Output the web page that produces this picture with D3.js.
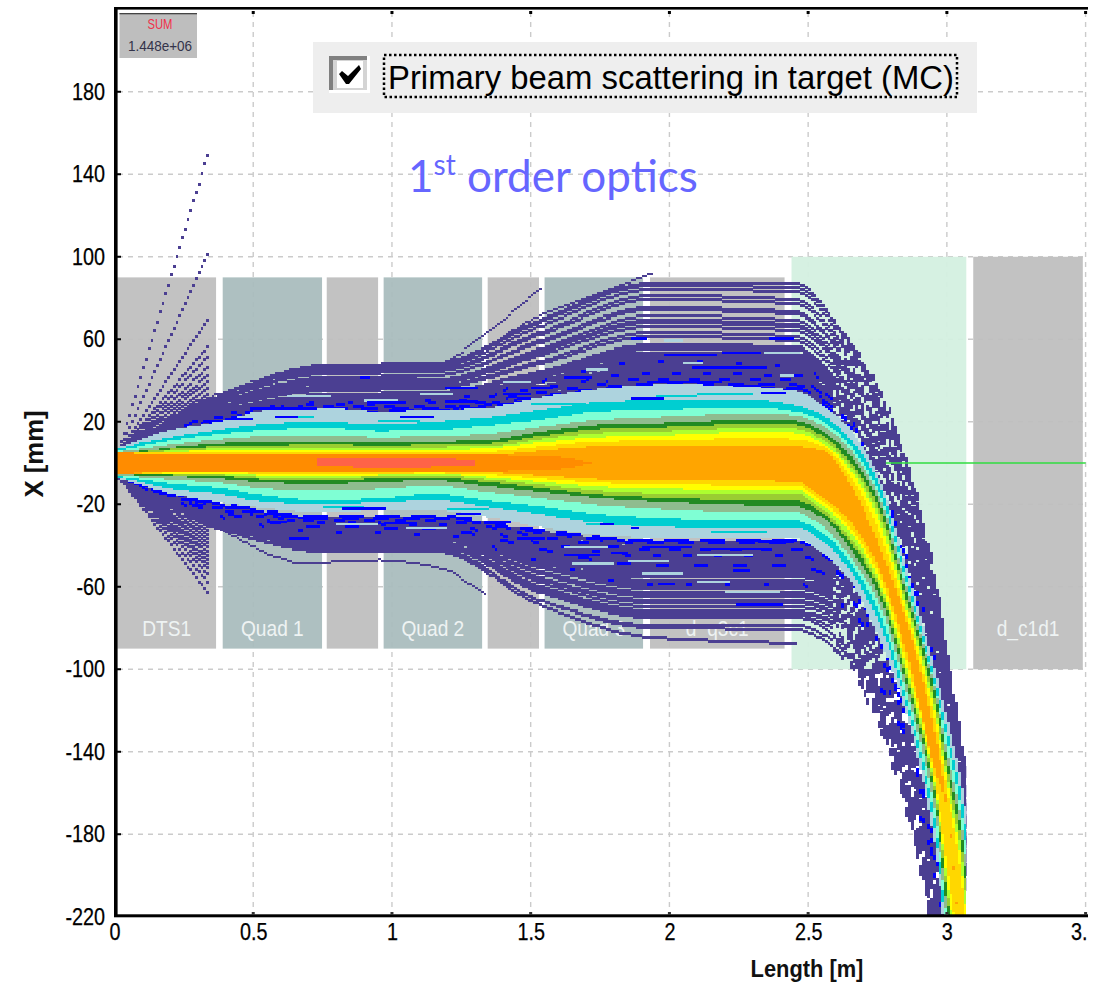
<!DOCTYPE html>
<html><head><meta charset="utf-8">
<script src="https://cdn.jsdelivr.net/npm/d3@7"></script>
<style>html,body{margin:0;padding:0;background:#fff}svg{display:block}text{font-family:"Liberation Sans",Arial,sans-serif}</style>
</head><body><div id="c"></div>
<script>
// ---------- axis ticks
const xTicks=[0,0.5,1,1.5,2,2.5,3,3.5];
const xTickLabels=["0","0.5","1","1.5","2","2.5","3","3."];
const yTicks=[180,140,100,60,20,-20,-60,-100,-140,-180,-220];
// ---------- beamline elements: name, start, end, half aperture, kind
const elemNames=["DTS1","Quad 1","","Quad 2","","Quad 3","d_q3c1","","d_c1d1"];
const elemStart=[0.01,0.39,0.765,0.97,1.345,1.55,1.93,2.44,3.095];
const elemEnd=[0.366,0.748,0.95,1.325,1.53,1.905,2.415,3.07,3.49];
const elemHalf=[90,90,90,90,90,90,90,100,100];
const elemKind=["d","q","d","q","d","q","d","g","d"];
// ---------- stations (m) for the colour bands
const bandX=[0.01,0.1,0.2,0.37,0.55,0.75,0.95,1.15,1.33,1.53,1.75,2.0,2.3,2.45,2.55,2.65,2.75,2.85,2.95,3.0,3.04,3.08];
const lbU=[7.5,12,16,20,25.7,26.7,25,25.7,26.7,32,36,38,37,35,28,16,-7,-51,-99,-126,-150,-185];
const cyU=[7,10,12.5,16,19,20,18.5,20,22,25.7,29.6,30.5,30.5,28,23,11,-10,-55,-104,-132,-157,-195];
const aqU=[6,8.5,11,14,16,17,15.5,16,18,21,25,26,27,25,20,8,-14,-58,-107,-137,-163,-205];
const dsU=[5.5,7,9,11.5,13,13.5,12.5,13,14,17.5,21,22.5,24,23,18,6,-16,-60,-108,-143,-168,-214];
const fgU=[5,6,7.5,9.5,10.5,10.5,10,10.5,11,15,18.5,19.5,21,20.5,15,3,-19,-63,-110,-147,-173,-222];
const ygU=[5,5.7,6.8,8,8.5,9,8.5,9,9.5,13,16.5,17.5,19,18.5,13,0,-22,-66,-114,-151,-178,-228];
const gyU=[5,5.4,6,7,7.5,7.7,7.5,7.7,8,11.5,14.5,15.5,17,16.5,11,-2,-25,-68,-117,-155,-183,-235];
const yeU=[5,5.2,5.5,6.3,6.5,6.5,6.3,6.5,7,10,12.5,13.5,15,14.5,9.5,-4,-28,-71,-120,-158,-188,-245];
const goU=[5,5,5,5,5.2,5.2,5.2,5.2,5.5,8,10.5,11,12,11.5,8,-7,-33,-74,-124,-162,-194,-252];
const orU=[5,4.7,4.4,4,4,4,4,4,4,6,8,8,8.2,8,6,-11,-40,-77,-130,-170,-230,-300];
const orL=[-5.5,-4.8,-4.5,-4.2,-4.2,-4.2,-4.2,-4.2,-4.5,-6,-7.8,-8.3,-8.6,-9,-17,-29,-51,-92,-148,-170,-230,-300];
const goL=[-5.5,-5,-4.8,-4.7,-5,-5.2,-5,-4.8,-5.5,-7.5,-9.5,-10.5,-10.8,-11,-19,-32,-54,-96,-152,-200,-235,-270];
const yeL=[-5.5,-5.1,-5,-5.1,-6,-6.3,-5.8,-5.2,-6.7,-9,-11.5,-12.5,-13,-13,-21,-34,-57,-99,-155,-207,-245,-280];
const gyL=[-5.5,-5.3,-5.4,-5.7,-7,-7.3,-6.5,-6,-7.8,-10.5,-13.5,-15,-15.5,-15,-23,-37,-59,-102,-157,-211,-250,-290];
const ygL=[-5.5,-5.5,-5.8,-6.3,-8,-8.5,-7.5,-7,-9,-12,-15.5,-17,-18,-18,-25,-39,-61,-104,-159,-215,-255,-295];
const fgL=[-5.5,-6,-6.5,-7.5,-9.5,-10,-9,-8.5,-11,-14,-17,-19,-20.5,-21,-27,-42,-64,-107,-162,-222,-262,-305];
const dsL=[-6,-7,-8,-9.5,-12.5,-13.5,-12.5,-11,-14,-17,-20.5,-22.5,-24,-24,-31,-46,-68,-111,-167,-228,-270,-312];
const aqL=[-6.5,-8,-10,-12,-16,-18,-17,-15,-18,-21,-25,-27,-28,-28,-34,-49,-72,-115,-172,-234,-280,-320];
const cyL=[-7,-9.5,-12.5,-15,-19,-20,-19,-18,-21,-25,-29,-31,-31.5,-31.5,-38,-53,-77,-118,-177,-240,-290,-330];
const lbL=[-7.5,-11,-15,-19,-22,-24,-23,-23,-26,-31,-35,-36.5,-36.5,-36.5,-44,-58,-85,-122,-184,-246,-300,-340];
const bandColors=["#add3de","#00ced1","#7fffd4","#8fbc8f","#228b22","#9acd32","#adff2f","#ffff00","#ffd700","#ffa500"];
const bandUpper=[lbU,cyU,aqU,dsU,fgU,ygU,gyU,yeU,goU,orU];
const bandLower=[lbL,cyL,aqL,dsL,fgL,ygL,gyL,yeL,goL,orL];
// darker core of the beam
const coreX=[0.01,0.4,0.75,1.33,1.6,1.72];
const coreU=[5,4,4,4,3,0];
const coreL=[-5,-4,-4,-4,-3,0];
const hotX=[0.73,0.9,1.1,1.3];
const hotU=[2,2.4,2.4,1.5];
const hotL=[-1.5,-2,-2,-1];
// ---------- single-particle tracks at these stations (m)
const trackX=[0.37,0.75,1.15,1.53,1.93,2.45,2.6,2.75,2.9,3.07];
const sparseUp=[
[33,48,49,70,88,88,68,34,-24,-152],[33,47,48,69,87,86,67,35,-22,-150],[32,46,47,67,85,84,65,33,-25,-155],
[31,45,46,64,82,80,62,30,-28,-156],[31,44,45,63,80,78,60,28,-30,-158],[30,42,43,60,76,74,57,25,-32,-162],
[30,41,43,59,75,73,56,24,-35,-163],[29,41,41,56,72,70,53,21,-37,-167],[29,40,40,55,70,68,51,19,-39,-169],
[28,39,39,54,69,67,50,18,-40,-171],[28,38,39,53,67,65,49,16,-42,-172],[27,37,38,50,64,62,46,13,-45,-176],[27,36,37,49,62,60,44,11,-47,-178]];
const denseUp=[
[26,34,35,45,58,57,41,7,-51,-180],[26,34,35,45,57,56,40,6,-52,-181],[25,33,34,44,56,54,39,4,-55,-183],[25,33,33,43,54,52,37,2,-57,-185],
[24,32,32,41,52,50,35,0,-58,-188],[24,31,31,40,50,48,33,-2,-60,-190],[23,30,30,38,48,46,31,-4,-62,-192],
[23,29,30,37,46,44,30,-5,-64,-194],[22,28,29,36,44,42,28,-7,-66,-196],[22,28,28,34,42,40,26,-9,-68,-198],
[21,27,27,33,40,38,24,-11,-70,-196],[21,26,26,31,38,36,22,-13,-72,-198]];
const sparseLow=[
[-31,-42,-42,-68,-84,-87,null,null,null,null],[-31,-41,-40,-66,-79,-80,-90,-124,-191,-330],
[-31,-41,-41,-66,-78,-78,-87,-122,-189,-328],[-30,-40,-39,-62,-74,-74,-84,-119,-186,-324],[-30,-39,-38,-61,-73,-73,-81,-118,-185,-322]];
const denseLow=[
[-29,-38,-37,-59,-71,-71,-77,-115,-182,-318],[-28,-37,-36,-57,-69,-69,-75,-114,-180,-316],[-27,-36,-35,-55,-66,-66,-73,-111,-177,-313],
[-27,-35,-35,-53,-64,-64,-71,-109,-175,-310],[-26,-35,-34,-52,-62,-62,-69,-107,-172,-308],[-26,-34,-33,-50,-60,-60,-67,-105,-170,-306],
[-25,-33,-33,-49,-58,-58,-65,-103,-168,-304],[-25,-33,-32,-47,-56,-56,-63,-101,-166,-302],[-24,-32,-31,-45,-54,-54,-61,-99,-164,-299],
[-24,-31,-31,-44,-52,-52,-59,-97,-162,-297],[-23,-31,-30,-42,-50,-50,-57,-95,-160,-295],[-23,-30,-29,-41,-48,-48,-55,-94,-158,-293],
[-22,-29,-29,-39,-46,-46,-53,-92,-156,-291],[-22,-28,-28,-38,-44,-44,-51,-90,-154,-288],[-21,-28,-27,-36,-42,-42,-50,-88,-152,-286],
[-21,-27,-27,-35,-40,-40,-48,-86,-150,-284],[-20,-26,-26,-33,-38,-38,-46,-84,-148,-282]];
// cell height (mm) of the dense tracks, read from the stripes
const denseHeightUp=[1.6,2.2,1.7,2.2,2.2,1.8,2.2,2.2,2.2,2.2,2.2,2.2];
const denseHeightLow=[2.2,1.6,2.2,1.4,2.2,1.6,2.2,2.2,1.8,2.2,2.2,2.2,2.2,2.2,2.2,2.2,2.2];
const blueUp=[
[21,27,27,33,39,38.5,25,-13,-72,-198],[22,28,28,35,41,41,27,-11,-69,-196],[20,25,26,31,37,37,23,-14,-74,-203],
[23,29,30,37,44,43,29,-9,-67,-194],[19,24,25,30,36,36,22,-15,-76,-206],[24,30,31,40,50,48,33,-5,-62,-190]];
const blueLow=[
[-20,-26,-26,-33,-38,-38,-45,-84,-155,-280],[-21,-27,-27,-35,-41,-41,-48,-87,-157,-285],[-19,-25,-25,-32,-37,-37,-45,-83,-154,-282],
[-22,-28,-29,-38,-44,-44,-52,-90,-160,-288],[-23,-30,-31,-41,-49,-49,-57,-95,-164,-294],[-25,-33,-34,-47,-58,-58,-65,-103,-170,-304]];
const blueOn=[6,4,9,3,5,2];
const blueOff=[5,7,4,8,9,12];
// horizontal streaks: start m, end m, height mm
const streakBlueX0=[1.86,1.92,2.08,1.98,2.19,1.86,2.36,2.23,2.33,1.9,2.11,2.23,2.24,1.96,1.79,2.32,1.75,1.86,0.885,0.49,0.58,1.03,0.91,1.19,1.19,0.55,0.55,0.66,0.82,0.97,1.23,1.33,0.63,0.4,1.4,1.5,1.62,1.45,1.62];
const streakBlueX1=[1.98,2.19,2.35,2.17,2.33,1.92,2.45,2.33,2.42,2.08,2.35,2.29,2.41,2.02,1.85,2.45,1.8,1.89,0.92,0.73,0.66,1.15,1.04,1.31,1.31,0.63,0.62,0.75,0.98,1.09,1.32,1.43,0.70,0.5,1.5,1.58,1.72,1.55,1.75];
const streakBlueY=[32,40,47,53,54,61,61,38,34.5,-40,-41,-51.5,-68,-58,-43,-37.5,-29,-31,42,27,23,23,30,30.5,37,-24,-28,-26,-21.5,-28.5,-24,-28,-36,22,34,37,42,-36,-44];
const streakPaleX0=[2.34,1.98,2.05,1.7,2.4,0.62,0.9,1.1,1.4,1.62,1.85,2.1,2.2,0.8,1.05,1.65,1.9,2.1];
const streakPaleX1=[2.47,2.05,2.12,1.78,2.45,0.78,1.02,1.22,1.5,1.78,2.0,2.22,2.4,0.95,1.2,1.8,2.05,2.3];
const streakPaleY=[54,60,49,46,43,33,31,34,40,-40,-47,-57,-62,-29,-31,-48,-53,-44];
const streakCyanX0=[0.6,0.95,1.5,1.95,2.1,0.75,1.2,1.7,2.15];
const streakCyanX1=[0.72,1.1,1.7,2.1,2.3,0.9,1.35,1.9,2.35];
const streakCyanY=[23,21,29,33,34,-21,-22,-29,-33];
// tracks lost on an aperture
const lostX=[[0.37,0.75,1.15,1.33,1.53],[0.37,0.75,1.15,1.53,1.93],[0.2,0.37,0.58,0.67,0.95,1.18,1.33]];
const lostY=[[34,47,48,63,85],[33,47,47,72,92],[-18,-31,-45,-48,-46.5,-51,-63]];
// scattered fan inside DTS1, end value at 0.33 m
const fanUp=[150,102,70,57,52,47,43,40,37,34,31,28,25];
const fanLow=[-62,-57,-53,-50,-48,-46,-44,-42,-40,-38,-36,-34,-32,-30,-28];
const fanEndX=0.33;
const zeroLineX=[2.78,3.5];
const zeroLineY=[0,0];
// hand-set texture for the histogram's speckled part
const speckle=[1,1,0,1,1,1,0,1,1,1,1,0,0,1,1,1,0,1,1,0,1,1,1,1,1,0,1,1,0,1,1];
const wobble=[0,2,-1,3,-3,1,-2,4,-1,0,3,-4,2,-2,1,-3,0,2];

const W=1100,H=985;
const x=d3.scaleLinear().domain([0,3.5]).range([114.5,1085.6]);
const y=d3.scaleLinear().domain([-220,220]).range([916.75,9.25]);
const svg=d3.select("#c").append("svg").attr("width",W).attr("height",H).attr("viewBox",[0,0,W,H]);

function squeeze(sel,k){sel.each(function(){const l=this.getComputedTextLength();d3.select(this).attr("textLength",l*k).attr("lengthAdjust","spacingAndGlyphs");});}

// grid
const grid=svg.append("g").attr("stroke","#cbcbcb").attr("stroke-width",1.4).attr("stroke-dasharray","5,5");
grid.selectAll("line.v").data(xTicks.slice(1)).join("line").attr("x1",d=>x(d)).attr("x2",d=>x(d)).attr("y1",12).attr("y2",913);
grid.selectAll("line.h").data(yTicks.slice(0,-1)).join("line").attr("x1",118).attr("x2",1085).attr("y1",d=>y(d)).attr("y2",d=>y(d));

// elements
const kindColor={d:"#bebebe",q:"#a9bcbd",g:"#d3f0e0"};
const eg=svg.append("g");
eg.selectAll("rect").data(elemStart).join("rect")
 .attr("x",d=>x(d)).attr("width",(d,i)=>x(elemEnd[i])-x(d))
 .attr("y",(d,i)=>y(elemHalf[i])).attr("height",(d,i)=>y(-elemHalf[i])-y(elemHalf[i]))
 .attr("fill",(d,i)=>kindColor[elemKind[i]]).attr("opacity",0.94);
eg.selectAll("text").data(elemNames).join("text")
 .attr("x",(d,i)=>(x(elemStart[i])+x(elemEnd[i]))/2).attr("y",636).attr("text-anchor","middle")
 .attr("font-size",22).attr("fill","#eef3f3").text(d=>d).call(squeeze,0.87);

function interp(xs,ys){
 const n=xs.length,d=[],m=[];
 for(let i=0;i<n-1;i++)d.push((ys[i+1]-ys[i])/(xs[i+1]-xs[i]));
 m[0]=d[0];m[n-1]=d[n-2];
 for(let i=1;i<n-1;i++)m[i]=d[i-1]*d[i]<=0?0:2*d[i-1]*d[i]/(d[i-1]+d[i]);
 return t=>{
  let i=d3.bisectRight(xs,t)-1;i=Math.max(0,Math.min(n-2,i));
  const h=xs[i+1]-xs[i],s=(t-xs[i])/h,s2=s*s,s3=s2*s;
  return (2*s3-3*s2+1)*ys[i]+(s3-2*s2+s)*h*m[i]+(-2*s3+3*s2)*ys[i+1]+(s3-s2)*h*m[i+1];
 };
}
const stepM=0.01;
const cols=d3.range(0.01,3.08,stepM);
const plot=svg.append("g").attr("clip-path","url(#beam)");
svg.append("clipPath").attr("id","beam").append("rect").attr("x",x(0.01)).attr("y",y(220)).attr("width",x(3.07)-x(0.01)).attr("height",y(-220)-y(220));

function cellPath(xs,ys,h,on,off,phase,row,skipEarly,cap){
 const f=interp(xs,ys),end=xs[xs.length-1];let p="";
 cols.forEach((t,i)=>{
  if(t>end+1e-6||t<xs[0])return;
  if(on&&((i+phase)%(on+off))>=on)return;
  let v=f(t),hh=h;
  if(row!==undefined){
   const steep=t>2.58, early=skipEarly&&t<0.42;
   if((steep||early)&&!speckle[(i*3+row*7)%speckle.length])return;
   if(steep){
     v+=wobble[(i*5+row*3)%wobble.length]*Math.min(1,(t-2.58)/0.15);
     hh=Math.min(0.6*Math.abs(f(t+stepM)-f(t))+1.6,cap||99);
   }
  }
  const x0=Math.round(x(t)),x1=Math.round(x(t+stepM)),y0=Math.round(y(Math.round(v)));
  p+=`M${x0} ${y0}H${x1}V${y0+Math.round(hh*2.0625)}H${x0}z`;
 });
 return p;
}
const start=v=>v>0?6:-6;
function track(r){const n=r.findIndex(v=>v===null),k=n<0?r.length:n;return {xs:[0.01,...trackX.slice(0,k)],ys:[start(r[0]),...r.slice(0,k)]};}
const purple="#4b3f92",blue="#0000ff";
function put(d,c){plot.append("path").attr("fill",c).attr("shape-rendering","crispEdges").attr("d",d);}
[...fanUp,...fanLow].forEach(e=>put(cellPath([0.01,fanEndX],[start(e),e],1.4),purple));
lostX.forEach((xs,i)=>{const ys=lostY[i];put(cellPath([0.01,...xs],[start(ys[0]),...ys],1.2),purple);});
sparseUp.concat(sparseLow).forEach((r,i)=>{const t=track(r);put(cellPath(t.xs,t.ys,1.3,0,0,0,i,true),purple);});
denseUp.forEach((r,i)=>{const t=track(r);put(cellPath(t.xs,t.ys,denseHeightUp[i],0,0,0,i+20),purple);});
denseLow.forEach((r,i)=>{const t=track(r);put(cellPath(t.xs,t.ys,denseHeightLow[i],0,0,0,i+40),purple);});
blueUp.concat(blueLow).forEach((r,i)=>{const t=track(r),k=i%6;put(cellPath(t.xs,t.ys,1.3,blueOn[k],blueOff[k],i*3,i+60,false,2.2),blue);});

// colour bands as staircase columns
function band(xs,u,l,color){
 const fu=interp(xs,u),fl=interp(xs,l);
 const c=cols.filter(t=>t>=xs[0]&&t<=xs[xs.length-1]);
 const a=d3.area().x(t=>Math.round(x(t))).y0(t=>Math.round(y(fl(t))/2)*2).y1(t=>Math.round(y(fu(t))/2)*2).curve(d3.curveStepAfter);
 put(a(c),color);
}
bandColors.forEach((c,i)=>band(bandX,bandUpper[i],bandLower[i],c));
band(coreX,coreU,coreL,"#ff8c00");
band(hotX,hotU,hotL,"#ff6347");
// streaks
function streaks(x0s,x1s,ys,c,h){plot.append("g").attr("fill",c).attr("shape-rendering","crispEdges").selectAll("rect").data(ys).join("rect")
 .attr("x",(d,i)=>x(x0s[i])).attr("width",(d,i)=>x(x1s[i])-x(x0s[i])).attr("y",d=>y(d)).attr("height",h);}
streaks(streakPaleX0,streakPaleX1,streakPaleY,"#add3de",2.5);
streaks(streakCyanX0,streakCyanX1,streakCyanY,"#00ced1",2);
streaks(streakBlueX0,streakBlueX1,streakBlueY,blue,2.5);

// zero line
svg.append("path").attr("fill","none").attr("stroke","#2fdc3f").attr("stroke-width",1.3)
 .attr("d",d3.line().x(d=>x(d[0])).y(d=>y(d[1]))(zeroLineX.map((v,i)=>[v,zeroLineY[i]])));

// frame
svg.append("rect").attr("x",114).attr("y",7).attr("width",3.6).attr("height",910).attr("fill","#000");
svg.append("rect").attr("x",114).attr("y",7).attr("width",974).attr("height",2.6).attr("fill","#000");
svg.append("rect").attr("x",114).attr("y",914.3).attr("width",974).attr("height",3).attr("fill","#000");

// axes through d3
const ax=d3.axisBottom(x).tickValues(xTicks).tickFormat((d,i)=>xTickLabels[i]).tickSize(0).tickPadding(0);
const gx=svg.append("g").attr("transform","translate(0,917)").call(ax);
gx.select(".domain").remove();
gx.selectAll("text").attr("font-size",23).attr("fill","#000").attr("stroke","#000").attr("stroke-width",0.25).attr("y",7).attr("dy","0.71em").attr("font-family",'"Liberation Sans"').call(squeeze,0.86);
gx.selectAll(".tick").filter(d=>d===3.5).select("text").attr("text-anchor","start").attr("x",-15);
const ay=d3.axisLeft(y).tickValues(yTicks).tickFormat(d=>String(d)).tickSize(0).tickPadding(0);
const gy=svg.append("g").attr("transform","translate(105,0)").call(ay);
gy.select(".domain").remove();
gy.selectAll("text").attr("font-size",23).attr("fill","#000").attr("stroke","#000").attr("stroke-width",0.25).attr("x",0).attr("font-family",'"Liberation Sans"').call(squeeze,0.86);
svg.append("g").selectAll("rect").data(yTicks.slice(0,-1)).join("rect").attr("x",117).attr("width",4).attr("y",d=>y(d)-1).attr("height",2).attr("fill","#000");
svg.append("g").selectAll("rect").data(xTicks.slice(1)).join("rect").attr("x",d=>x(d)-1.5).attr("width",3).attr("y",11).attr("height",3).attr("fill","#000");
svg.append("g").selectAll("rect").data(xTicks.slice(1)).join("rect").attr("x",d=>x(d)-1.5).attr("width",3).attr("y",912).attr("height",3).attr("fill","#333");

// axis titles
svg.append("text").attr("transform","translate(43,454) rotate(-90)").attr("text-anchor","middle").attr("font-size",25).attr("font-weight","bold").attr("fill","#111").text("X [mm]").call(squeeze,1.03);
svg.append("text").attr("x",807).attr("y",977).attr("text-anchor","middle").attr("font-size",24).attr("font-weight","bold").attr("fill","#111").text("Length [m]").call(squeeze,0.91);

// statistics box
svg.append("rect").attr("x",119.5).attr("y",13).attr("width",77.5).attr("height",45).attr("fill","#bebebe");
svg.append("rect").attr("x",119.5).attr("y",13).attr("width",77.5).attr("height",1.3).attr("fill","#444");
svg.append("text").attr("x",160).attr("y",29).attr("text-anchor","middle").attr("font-size",15).attr("fill","#f0304a").text("SUM").call(squeeze,0.75);
svg.append("text").attr("x",160).attr("y",51).attr("text-anchor","middle").attr("font-size",15).attr("fill","#33334a").text("1.448e+06").call(squeeze,0.9);

// checkbox panel
svg.append("rect").attr("x",313).attr("y",42).attr("width",664).attr("height",71).attr("fill","#eeeeee");
svg.append("rect").attr("x",329).attr("y",56).attr("width",41).attr("height",37).attr("fill","#fff");
svg.append("rect").attr("x",329).attr("y",56).attr("width",38).attr("height",34).attr("fill","#d4d4d4");
svg.append("path").attr("d","M329 56h38v4h-34v30h-4z").attr("fill","#808080");
svg.append("rect").attr("x",337).attr("y",61).attr("width",26).attr("height",27).attr("fill","#fff");
svg.append("path").attr("d","M339 74l3-3l6 5l11-11l2 4l-12 15l-3 0z").attr("fill","#000");
svg.append("rect").attr("x",384).attr("y",55).attr("width",573).attr("height",42).attr("fill","none").attr("stroke","#000").attr("stroke-width",2.5).attr("stroke-dasharray","2.5,2.5");
svg.append("text").attr("x",388).attr("y",89).attr("font-size",33).attr("fill","#000").attr("textLength",566).attr("lengthAdjust","spacingAndGlyphs").text("Primary beam scattering in target (MC)");

// annotation
const note=svg.append("text").attr("x",408).attr("y",192).attr("font-size",44).attr("fill","#6666ff").style("font-family","Lato");
note.append("tspan").text("1");
note.append("tspan").attr("font-size",28).attr("dy",-17).text("st");
note.append("tspan").attr("dy",17).attr("x",467).text("order optics");
</script></body></html>
